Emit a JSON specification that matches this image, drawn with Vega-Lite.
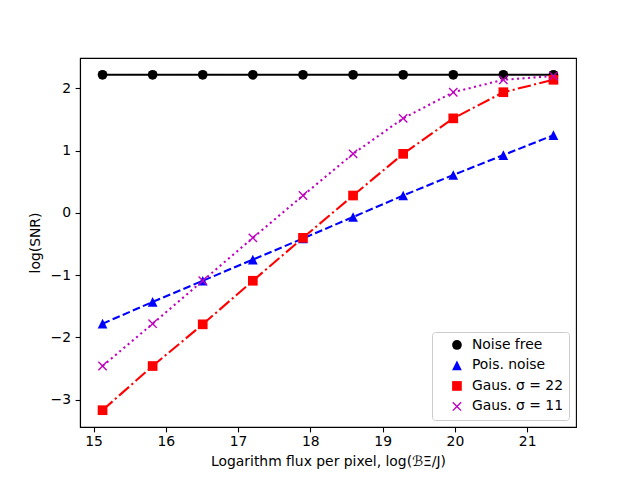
{
  "$schema": "https://vega.github.io/schema/vega-lite/v6.json",
  "width": 496,
  "height": 369,
  "autosize": {"type": "none"},
  "padding": {"left": 80, "top": 58, "right": 64, "bottom": 53},
  "background": "white",
  "config": {
    "view": {"stroke": "black", "strokeWidth": 1.1},
    "font": "DejaVu Sans",
    "axis": {
      "grid": false,
      "domainColor": "black",
      "domainWidth": 1.1,
      "tickColor": "black",
      "tickWidth": 1.1,
      "tickSize": 4.9,
      "labelFont": "DejaVu Sans",
      "labelFontSize": 13.9,
      "labelColor": "black",
      "titleFont": "DejaVu Sans",
      "titleFontSize": 13.9,
      "titleFontWeight": "normal",
      "titleColor": "black"
    }
  },
  "data": {
    "values": [
      {"series": "Noise free", "x": 15.125, "y": 2.22},
      {"series": "Noise free", "x": 15.818, "y": 2.22},
      {"series": "Noise free", "x": 16.511, "y": 2.22},
      {"series": "Noise free", "x": 17.204, "y": 2.22},
      {"series": "Noise free", "x": 17.898, "y": 2.22},
      {"series": "Noise free", "x": 18.591, "y": 2.22},
      {"series": "Noise free", "x": 19.284, "y": 2.22},
      {"series": "Noise free", "x": 19.977, "y": 2.22},
      {"series": "Noise free", "x": 20.670, "y": 2.22},
      {"series": "Noise free", "x": 21.363, "y": 2.22},
      {"series": "Pois. noise", "x": 15.125, "y": -1.78},
      {"series": "Pois. noise", "x": 15.818, "y": -1.43},
      {"series": "Pois. noise", "x": 16.511, "y": -1.09},
      {"series": "Pois. noise", "x": 17.204, "y": -0.75},
      {"series": "Pois. noise", "x": 17.898, "y": -0.41},
      {"series": "Pois. noise", "x": 18.591, "y": -0.065},
      {"series": "Pois. noise", "x": 19.284, "y": 0.28},
      {"series": "Pois. noise", "x": 19.977, "y": 0.61},
      {"series": "Pois. noise", "x": 20.670, "y": 0.93},
      {"series": "Pois. noise", "x": 21.363, "y": 1.25},
      {"series": "Gaus. σ = 22", "x": 15.125, "y": -3.17},
      {"series": "Gaus. σ = 22", "x": 15.818, "y": -2.46},
      {"series": "Gaus. σ = 22", "x": 16.511, "y": -1.79},
      {"series": "Gaus. σ = 22", "x": 17.204, "y": -1.09},
      {"series": "Gaus. σ = 22", "x": 17.898, "y": -0.40},
      {"series": "Gaus. σ = 22", "x": 18.591, "y": 0.28},
      {"series": "Gaus. σ = 22", "x": 19.284, "y": 0.95},
      {"series": "Gaus. σ = 22", "x": 19.977, "y": 1.52},
      {"series": "Gaus. σ = 22", "x": 20.670, "y": 1.94},
      {"series": "Gaus. σ = 22", "x": 21.363, "y": 2.14},
      {"series": "Gaus. σ = 11", "x": 15.125, "y": -2.46},
      {"series": "Gaus. σ = 11", "x": 15.818, "y": -1.78},
      {"series": "Gaus. σ = 11", "x": 16.511, "y": -1.09},
      {"series": "Gaus. σ = 11", "x": 17.204, "y": -0.40},
      {"series": "Gaus. σ = 11", "x": 17.898, "y": 0.28},
      {"series": "Gaus. σ = 11", "x": 18.591, "y": 0.95},
      {"series": "Gaus. σ = 11", "x": 19.284, "y": 1.52},
      {"series": "Gaus. σ = 11", "x": 19.977, "y": 1.94},
      {"series": "Gaus. σ = 11", "x": 20.670, "y": 2.14},
      {"series": "Gaus. σ = 11", "x": 21.363, "y": 2.20}
    ]
  },
  "encoding": {
    "x": {
      "field": "x",
      "type": "quantitative",
      "scale": {"domain": [14.813, 21.675], "nice": false, "zero": false},
      "axis": {
        "title": "Logarithm flux per pixel, log(ℬΞ/J)",
        "values": [15, 16, 17, 18, 19, 20, 21],
        "labelPadding": 3,
        "titlePadding": 6
      }
    },
    "y": {
      "field": "y",
      "type": "quantitative",
      "scale": {"domain": [-3.44, 2.49], "nice": false, "zero": false},
      "axis": {
        "title": "log(SNR)",
        "values": [-3, -2, -1, 0, 1, 2],
        "labelPadding": 4.5,
        "titlePadding": 8
      }
    }
  },
  "layer": [
    {
      "mark": {"type": "line", "strokeWidth": 2.08},
      "encoding": {
        "color": {
          "field": "series",
          "type": "nominal",
          "scale": {
            "domain": ["Noise free", "Pois. noise", "Gaus. σ = 22", "Gaus. σ = 11"],
            "range": ["#000000", "#0000ff", "#ff0000", "#bf00bf"]
          }
        },
        "strokeDash": {
          "field": "series",
          "type": "nominal",
          "scale": {
            "domain": ["Noise free", "Pois. noise", "Gaus. σ = 22", "Gaus. σ = 11"],
            "range": [[1, 0], [7.7, 3.3], [13.3, 3.3, 2.1, 3.3], [2.1, 3.4]]
          },
          "legend": null
        }
      }
    },
    {
      "mark": {"type": "point", "filled": true, "opacity": 1, "size": 94},
      "encoding": {
        "color": {
          "field": "series",
          "type": "nominal",
          "scale": {
            "domain": ["Noise free", "Pois. noise", "Gaus. σ = 22", "Gaus. σ = 11"],
            "range": ["#000000", "#0000ff", "#ff0000", "#bf00bf"]
          },
          "legend": {
            "title": null,
            "orient": "bottom-right",
            "offset": 7,
            "padding": 6,
            "symbolOffset": 12,
            "labelOffset": 8,
            "rowPadding": 5.5,
            "symbolSize": 94,
            "symbolStrokeWidth": 0,
            "symbolDash": [1, 0],
            "labelFont": "DejaVu Sans",
            "labelFontSize": 13.9,
            "labelColor": "black",
            "strokeColor": "#cccccc",
            "fillColor": "rgba(255,255,255,0.8)",
            "cornerRadius": 3,
            "symbolOpacity": 1
          }
        },
        "shape": {
          "field": "series",
          "type": "nominal",
          "scale": {
            "domain": ["Noise free", "Pois. noise", "Gaus. σ = 22", "Gaus. σ = 11"],
            "range": [
              "circle",
              "M0,-1L-1,1L1,1Z",
              "square",
              "M0,-0.2L0.76,-0.96L0.96,-0.76L0.2,0L0.96,0.76L0.76,0.96L0,0.2L-0.76,0.96L-0.96,0.76L-0.2,0L-0.96,-0.76L-0.76,-0.96Z"
            ]
          }
        }
      }
    }
  ]
}
